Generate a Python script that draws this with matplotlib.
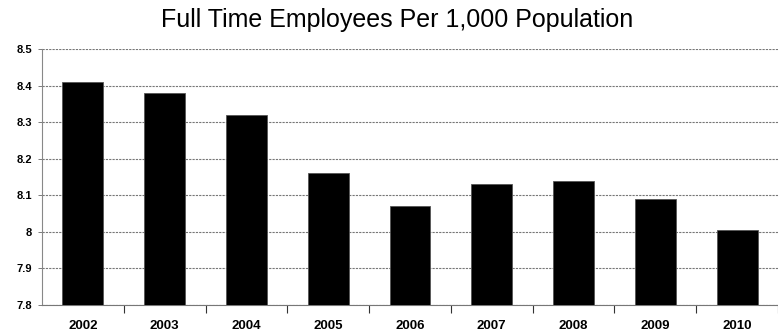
"""Bar chart: full time employees per 1,000 population, 2002-2010."""

import matplotlib
matplotlib.use("Agg")
import matplotlib.pyplot as plt
import numpy as np

years = ["2002", "2003", "2004", "2005", "2006", "2007", "2008", "2009", "2010"]
employees_per_1000 = [8.41, 8.38, 8.32, 8.16, 8.07, 8.13, 8.14, 8.09, 8.005]
y_ticks = [7.8, 7.9, 8.0, 8.1, 8.2, 8.3, 8.4, 8.5]
y_tick_labels = ["7.8", "7.9", "8", "8.1", "8.2", "8.3", "8.4", "8.5"]

plt.rcParams["font.family"] = ["Liberation Sans", "DejaVu Sans"]

fig = plt.figure(figsize=(7.78, 3.34), dpi=100)
ax = fig.add_axes([42 / 778, 29 / 334, 736 / 778, 256 / 334])

x = np.arange(len(years))
ax.bar(x, employees_per_1000, width=0.5, color="black", edgecolor="#555555",
       linewidth=0.6, zorder=3)

ax.set_ylim(7.8, 8.5)
ax.set_xlim(-0.5, -0.5 + 736 / 82.2)
ax.set_yticks(y_ticks)
ax.set_yticklabels(y_tick_labels, fontsize=8, fontweight="bold")

# category labels centred on bars, tick marks on the boundaries
ax.set_xticks(x)
ax.set_xticklabels(years, fontsize=9.5, fontweight="bold")
ax.tick_params(axis="x", length=0, pad=11)
ax.set_xticks(np.arange(len(years)) + 0.5, minor=True)
ax.tick_params(axis="x", which="minor", length=6, width=0.8, color="#333333")
ax.tick_params(axis="y", length=3, width=0.6, color="#666666", pad=4)

ax.grid(axis="y", color="#777777", linewidth=0.8, linestyle=(0, (2, 1)), zorder=0)

for side in ("top", "right"):
    ax.spines[side].set_visible(False)
ax.spines["left"].set_color("#888888")
ax.spines["left"].set_linewidth(0.8)
ax.spines["bottom"].set_color("#777777")
ax.spines["bottom"].set_linewidth(0.8)
ax.spines["bottom"].set_linestyle((0, (2, 1)))

fig.text(0.51, 0.94, "Full Time Employees Per 1,000 Population",
         ha="center", va="center", fontsize=18)

fig.savefig("out.png", dpi=100)
